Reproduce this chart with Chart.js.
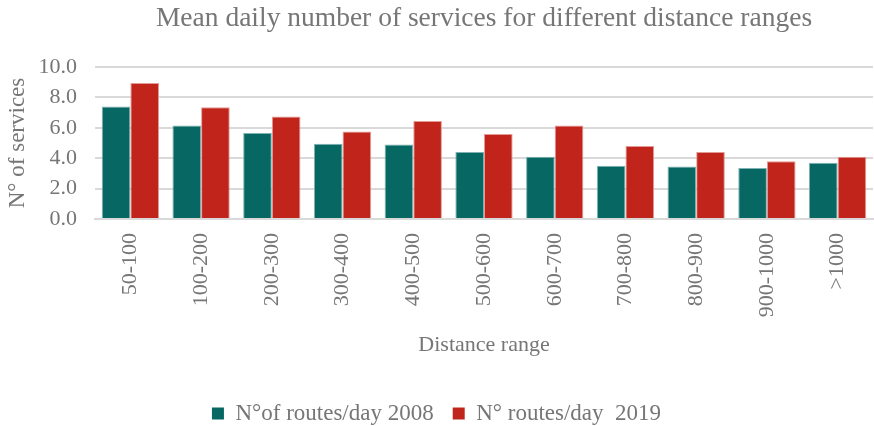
<!DOCTYPE html>
<html>
<head>
<meta charset="utf-8">
<script src="https://cdn.jsdelivr.net/npm/chart.js@4/dist/chart.umd.min.js"></script>
<style>
  html, body { margin: 0; padding: 0; background: #ffffff; }
  #wrap { width: 874px; height: 426px; }
</style>
</head>
<body>
<div id="wrap"><canvas id="c" width="874" height="426"></canvas></div>
<script>
const categories = ['50-100', '100-200', '200-300', '300-400', '400-500', '500-600',
                    '600-700', '700-800', '800-900', '900-1000', '>1000'];
const routes2008 = [7.4, 6.15, 5.65, 4.95, 4.9, 4.4, 4.1, 3.5, 3.45, 3.35, 3.7];
const routes2019 = [8.95, 7.35, 6.75, 5.75, 6.45, 5.6, 6.15, 4.8, 4.4, 3.8, 4.1];
const yTicks = [0, 2, 4, 6, 8, 10];

const SERIF = '"Liberation Serif", "Times New Roman", serif';
const GREY = '#767676';
const LEGEND_HEIGHT = 43;

// Keeps the legend strip at a fixed height so it sits close to the bottom edge.
const legendHeightPlugin = {
  id: 'legendHeight',
  beforeLayout(chart) {
    const legend = chart.legend;
    if (legend && !legend._fixedFit) {
      const fit = legend.fit;
      legend.fit = function () {
        fit.call(this);
        this.height = LEGEND_HEIGHT;
      };
      legend._fixedFit = true;
    }
  }
};

new Chart(document.getElementById('c'), {
  type: 'bar',
  data: {
    labels: categories,
    datasets: [
      {
        label: 'N°of routes/day 2008',
        data: routes2008,
        backgroundColor: '#066763',
        borderColor: '#7fb3b1',
        borderWidth: { top: 1, left: 1, right: 1, bottom: 0 },
        borderSkipped: 'bottom'
      },
      {
        label: 'N° routes/day  2019',
        data: routes2019,
        backgroundColor: '#c0241a',
        borderColor: '#e49a94',
        borderWidth: { top: 1, left: 1, right: 1, bottom: 0 },
        borderSkipped: 'bottom'
      }
    ]
  },
  plugins: [legendHeightPlugin],
  options: {
    responsive: false,
    animation: false,
    layout: { padding: { left: 0, right: 1, top: 0, bottom: 0 } },
    datasets: { bar: { categoryPercentage: 0.81, barPercentage: 1.0 } },
    plugins: {
      title: {
        display: true,
        fullSize: false,
        text: 'Mean daily number of services for different distance ranges',
        color: GREY,
        font: { family: SERIF, size: 27.5, weight: 'normal' },
        padding: { top: 2, bottom: 32 }
      },
      legend: {
        position: 'bottom',
        labels: {
          color: GREY,
          font: { family: SERIF, size: 23 },
          boxWidth: 12,
          boxHeight: 12,
          padding: 19,
          generateLabels(chart) {
            return chart.data.datasets.map((ds, i) => ({
              text: ds.label,
              fillStyle: ds.backgroundColor,
              strokeStyle: ds.backgroundColor,
              lineWidth: 0,
              datasetIndex: i,
              hidden: false,
              fontColor: GREY
            }));
          }
        }
      },
      tooltip: { enabled: false }
    },
    scales: {
      x: {
        afterFit(scale) {
          scale.height = 164;
          scale.paddingLeft = 0;
          scale.paddingRight = 0;
        },
        grid: { display: false, drawTicks: false },
        border: { color: '#d9d9d9', width: 2 },
        ticks: {
          color: GREY,
          font: { family: SERIF, size: 22 },
          minRotation: 90,
          maxRotation: 90,
          padding: 14,
          autoSkip: false
        },
        title: {
          display: true,
          text: 'Distance range',
          color: GREY,
          font: { family: SERIF, size: 22 },
          padding: { top: 8, bottom: 25 }
        }
      },
      y: {
        min: 0,
        max: 10,
        afterFit(scale) { scale.width = 95; },
        afterBuildTicks(scale) {
          scale.ticks = yTicks.map(v => ({ value: v }));
        },
        grid: { color: '#d9d9d9', lineWidth: 2, drawTicks: false },
        border: { display: false },
        ticks: {
          color: GREY,
          font: { family: SERIF, size: 22 },
          padding: 18,
          callback: v => Number(v).toFixed(1)
        },
        title: {
          display: true,
          text: 'N° of services',
          color: GREY,
          font: { family: SERIF, size: 23 },
          padding: { top: 4, bottom: 0 }
        }
      }
    }
  }
});
</script>
</body>
</html>
